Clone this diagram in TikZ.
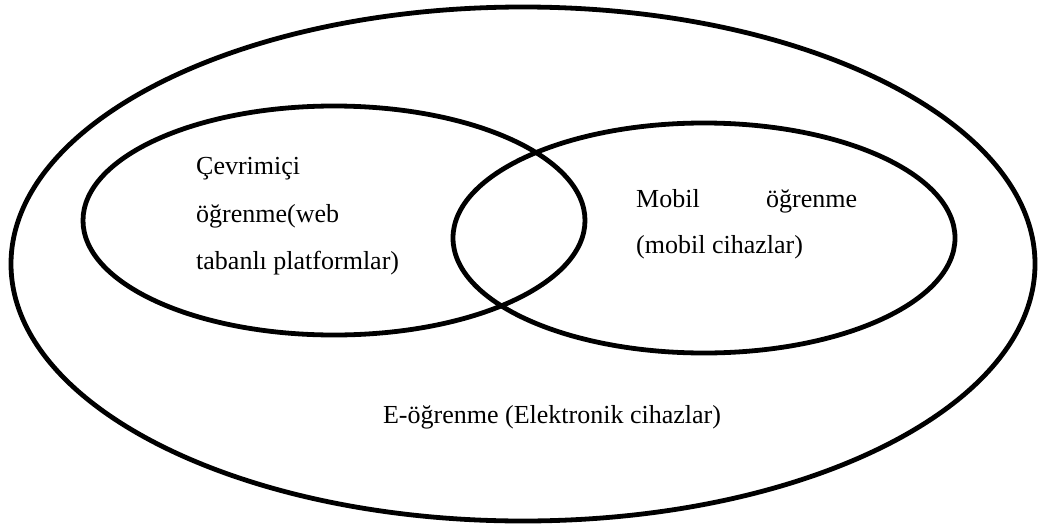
\documentclass[tikz,border=0pt]{standalone}
\usepackage{fontspec}
\setmainfont{Liberation Serif}
\begin{document}
\begin{tikzpicture}[x=1pt,y=-1pt,
  ring/.style={draw=black,line width=4.8pt},
  lbl/.style={anchor=base west,inner sep=0pt,font=\fontsize{26}{31}\selectfont}]
\useasboundingbox (0,0) rectangle (1040,530);
\draw[ring] (523,264) ellipse [x radius=512pt, y radius=257pt];
\draw[ring] (334,220.5) ellipse [x radius=251pt, y radius=114.5pt];
\draw[ring] (704,238) ellipse [x radius=251pt, y radius=115pt];
\node[lbl] (c1) at (196,174) {Çevrimiçi};
\node[lbl] (c2) at (196,222) {öğrenme(web};
\node[lbl] (c3) at (196,269) {tabanlı platformlar)};
\node[lbl] (m1) at (636,207) {\makebox[221pt][s]{Mobil\hfill öğrenme}};
\node[lbl] (m2) at (636,253) {(mobil cihazlar)};
\node[lbl,anchor=base] (e1) at (552,423) {E-öğrenme (Elektronik cihazlar)};
\end{tikzpicture}
\end{document}
